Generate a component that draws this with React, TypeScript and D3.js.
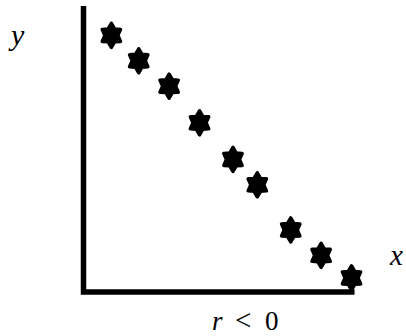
import { useRef, useEffect } from 'react'
import * as d3 from 'd3'

// point positions (arbitrary units, 0..10)
const xValues = [0.9, 1.8, 2.8, 3.8, 4.9, 5.7, 6.8, 7.8, 8.8]
const yValues = [9.1, 8.2, 7.3, 6.0, 4.7, 3.8, 2.2, 1.3, 0.5]
const xLabel = 'x'
const yLabel = 'y'
const caption = ['r', '<', '0']

const W = 406
const H = 336

export default function App() {
  const svgRef = useRef<SVGSVGElement>(null)

  useEffect(() => {
    if (!svgRef.current) return
    const svg = d3.select(svgRef.current)
    svg.selectAll('*').remove()

    const x = d3.scaleLinear().domain([0, 10]).range([84, 388])
    const y = d3.scaleLinear().domain([0, 10]).range([292, 10])

    // axes: L shape
    svg
      .append('path')
      .attr('d', `M${x(0) - 0.5},${y(10) - 4} V${y(0)} H${x(8.9)}`)
      .attr('fill', 'none')
      .attr('stroke', '#000')
      .attr('stroke-width', 5.5)
      .attr('stroke-linejoin', 'miter')

    // six-pointed star, a bit taller than wide
    const outer = 12
    const inner = 7.4
    const pts: [number, number][] = d3.range(12).map((i) => {
      const a = (i * Math.PI) / 6
      const r = i % 2 === 0 ? outer : inner
      return [r * Math.sin(a) * 0.88, -r * Math.cos(a)]
    })
    const star = 'M' + pts.map((p) => p.join(',')).join('L') + 'Z'

    svg
      .selectAll('.pt')
      .data(xValues.map((v, i) => [v, yValues[i]]))
      .join('path')
      .attr('class', 'pt')
      .attr('d', star)
      .attr('transform', (d) => `translate(${x(d[0])},${y(d[1])})`)
      .attr('fill', '#000')
      .attr('stroke', '#000')
      .attr('stroke-width', 3.5)
      .attr('stroke-linejoin', 'round')

    const font = '"Liberation Serif", "DejaVu Serif", serif'

    svg
      .append('text')
      .attr('x', 11)
      .attr('y', 45)
      .attr('font-family', font)
      .attr('font-style', 'italic')
      .attr('font-size', 30)
      .text(yLabel)

    svg
      .append('text')
      .attr('x', 390)
      .attr('y', 265)
      .attr('font-family', font)
      .attr('font-style', 'italic')
      .attr('font-size', 29)
      .text(xLabel)

    const t = svg
      .append('text')
      .attr('y', 330)
      .attr('font-family', font)
      .attr('font-size', 27)
    t.append('tspan').attr('x', 212).attr('font-style', 'italic').text(caption[0])
    t.append('tspan').attr('x', 235).attr('font-size', 29).text(caption[1])
    t.append('tspan').attr('x', 265).text(caption[2])
  }, [])

  return (
    <svg
      ref={svgRef}
      width={W}
      height={H}
      style={{ position: 'absolute', left: 0, top: 0, background: '#fff' }}
    />
  )
}
